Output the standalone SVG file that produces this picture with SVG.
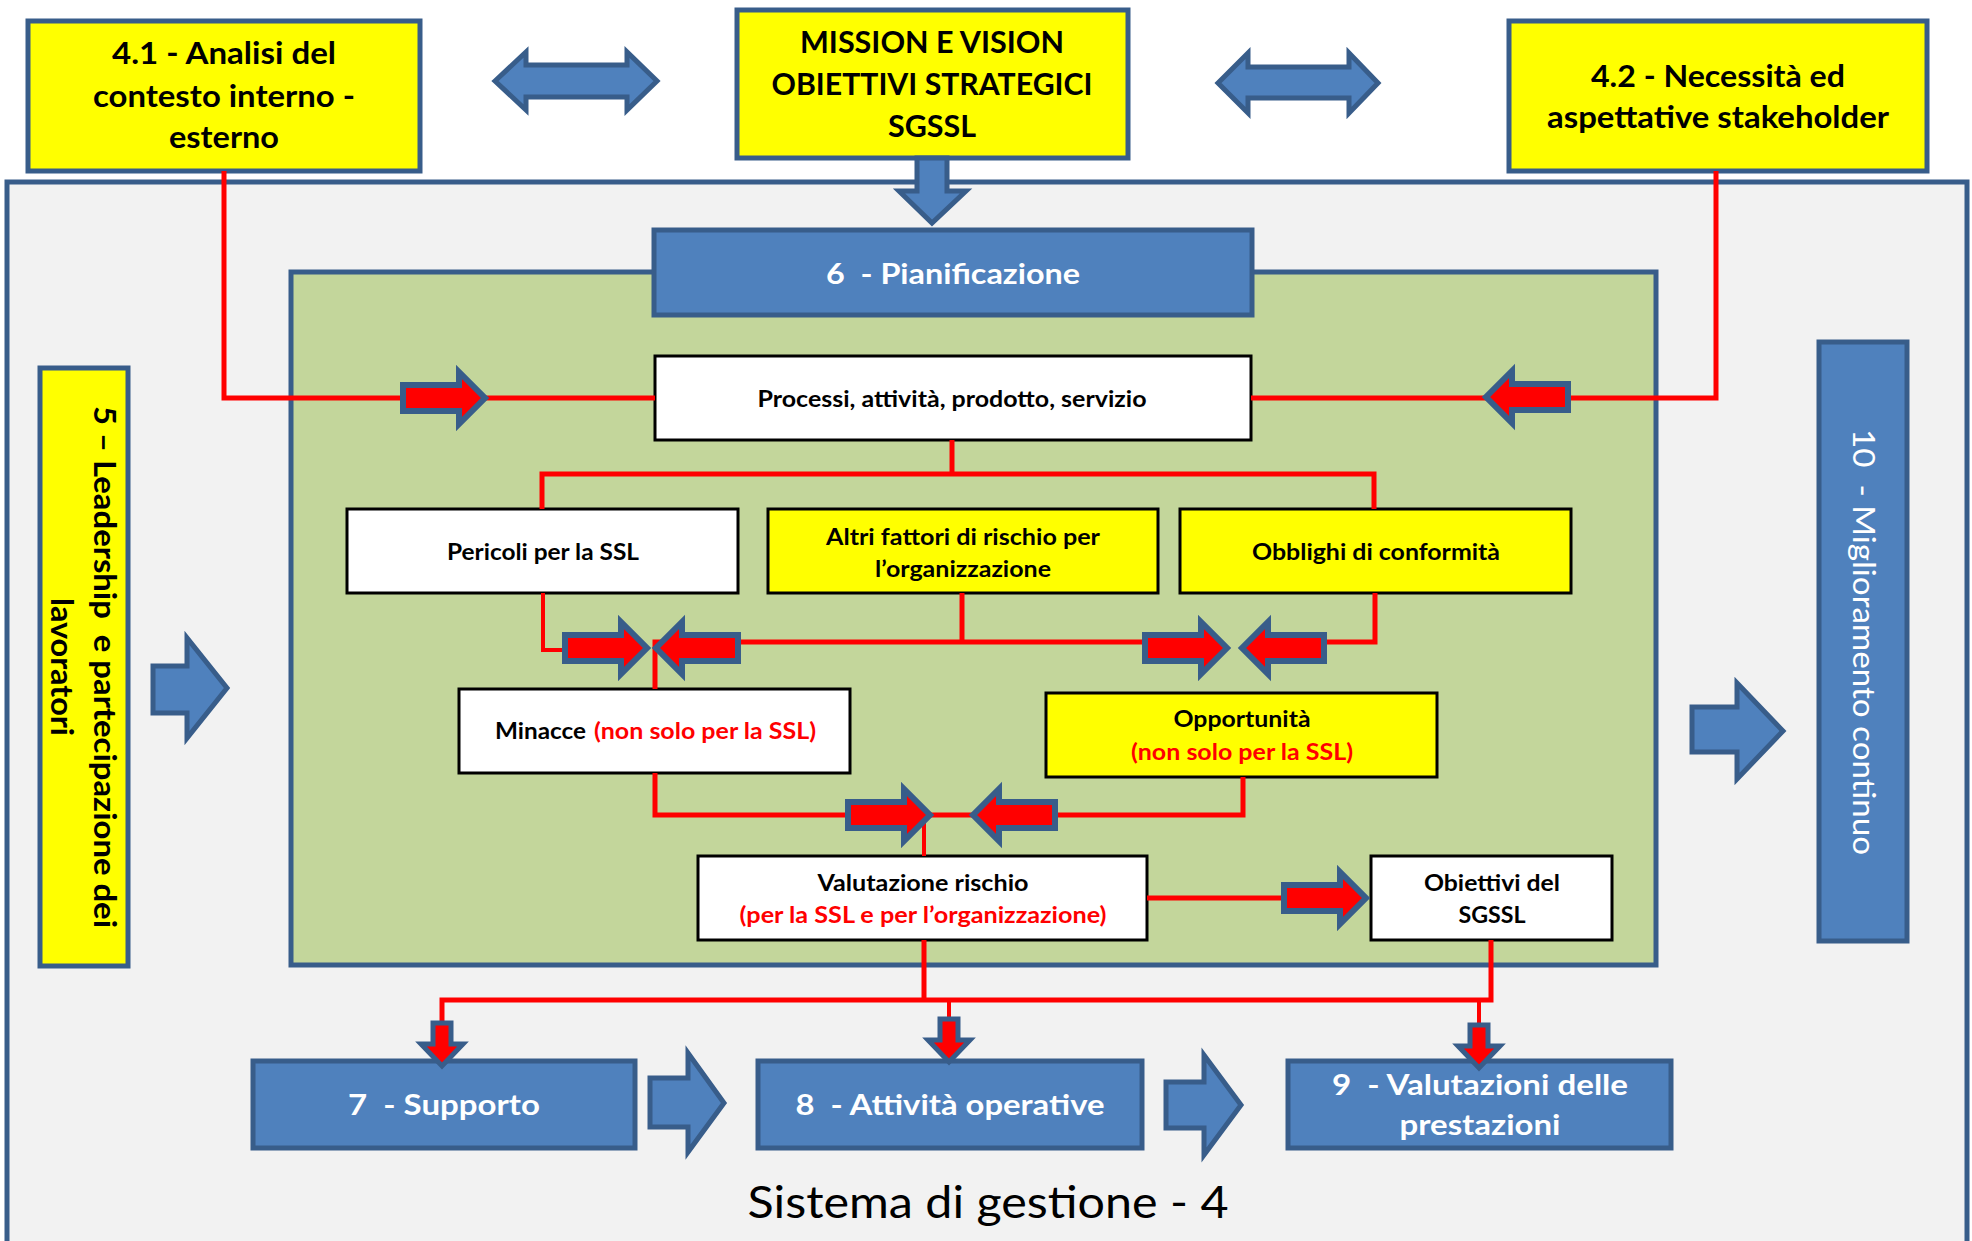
<svg xmlns="http://www.w3.org/2000/svg" xmlns:xlink="http://www.w3.org/1999/xlink" width="1972" height="1241" viewBox="0 0 1972 1241">
  <style>
    .frame { stroke: #385D8A; stroke-width: 5; }
    .yellow { fill: #FFFF00; stroke: #385D8A; stroke-width: 5; }
    .blue { fill: #4F81BD; stroke: #385D8A; stroke-width: 5; }
    .inner { stroke: #000000; stroke-width: 3; }
    .w { fill: #FFFFFF; }
    .y { fill: #FFFF00; }
    .wire { fill: none; stroke: #FF0000; stroke-width: 5; stroke-linejoin: miter; }
    .thin { stroke-width: 4; }
    .flow { fill: #4F81BD; stroke: #385D8A; stroke-width: 5; stroke-linejoin: miter; }
    .t { font-family: Lato, "Open Sans", sans-serif; font-weight: bold; text-anchor: middle; fill: #000000; white-space: pre; }
    .big { font-size: 30px; }
    .mid { font-size: 29px; }
    .sm { font-size: 22px; }
    .lbl { fill: #FFFFFF; }
    .red { fill: #FF0000; }
    .reg { font-weight: normal; }
  </style>
  <defs>
    <!-- small red block arrow, pointing right, centred on the origin -->
    <path id="ra" d="M-41,-13 H15 V-26 L41,0 L15,26 V13 H-41 Z" fill="#FF0000" stroke="#385D8A" stroke-width="6" stroke-linejoin="miter"/>
    <!-- small red block arrow, pointing down -->
    <path id="da" d="M-9,-21 H9 V0 H21 L0,22 L-21,0 H-9 Z" fill="#FF0000" stroke="#385D8A" stroke-width="5" stroke-linejoin="miter"/>
  </defs>

  <rect width="1972" height="1241" fill="#FFFFFF"/>

  <!-- outer management system frame -->
  <g id="sistema">
    <rect class="frame" x="7" y="182" width="1960" height="1090" fill="#F2F2F2"/>
    <text class="t reg" x="988" y="1218" font-size="44" textLength="481" lengthAdjust="spacingAndGlyphs">Sistema di gestione - 4</text>
  </g>

  <!-- planning area -->
  <g id="area-pianificazione">
    <rect class="frame" x="291" y="272" width="1365" height="693" fill="#C3D69B"/>
  </g>

  <g id="n-analisi">
    <rect class="yellow" x="28" y="21" width="392" height="150"/>
    <text class="t big" x="224" y="64" textLength="224" lengthAdjust="spacingAndGlyphs">4.1 - Analisi del</text>
    <text class="t big" x="224" y="107" textLength="262" lengthAdjust="spacingAndGlyphs">contesto interno -</text>
    <text class="t big" x="224" y="148" textLength="110" lengthAdjust="spacingAndGlyphs">esterno</text>
  </g>

  <g id="n-mission">
    <rect class="yellow" x="737" y="10" width="391" height="148"/>
    <text class="t big" x="932" y="53" textLength="264" lengthAdjust="spacingAndGlyphs">MISSION E VISION</text>
    <text class="t big" x="932" y="95" textLength="321" lengthAdjust="spacingAndGlyphs">OBIETTIVI STRATEGICI</text>
    <text class="t big" x="932" y="137" textLength="88" lengthAdjust="spacingAndGlyphs">SGSSL</text>
  </g>

  <g id="n-stakeholder">
    <rect class="yellow" x="1509" y="21" width="418" height="150"/>
    <text class="t big" x="1718" y="87" textLength="254" lengthAdjust="spacingAndGlyphs">4.2 - Necessità ed</text>
    <text class="t big" x="1718" y="128" textLength="342" lengthAdjust="spacingAndGlyphs">aspettative stakeholder</text>
  </g>

  <g id="n-pianificazione">
    <rect class="blue" x="654" y="230" width="598" height="85"/>
    <text class="t mid lbl" x="953" y="284" textLength="254" lengthAdjust="spacingAndGlyphs">6  - Pianificazione</text>
  </g>

  <g id="n-leadership">
    <rect class="yellow" x="40" y="368" width="88" height="598"/>
    <g transform="translate(94,667) rotate(90)">
      <text class="t big" x="0" y="0" textLength="522" lengthAdjust="spacingAndGlyphs">5 – Leadership  e partecipazione dei</text>
      <text class="t big" x="0" y="43" textLength="138" lengthAdjust="spacingAndGlyphs">lavoratori</text>
    </g>
  </g>

  <g id="n-miglioramento">
    <rect class="blue" x="1819" y="342" width="88" height="599"/>
    <g transform="translate(1853,642) rotate(90)">
      <text class="t reg lbl" x="0" y="0" font-size="30" textLength="426" lengthAdjust="spacingAndGlyphs">10  - Miglioramento continuo</text>
    </g>
  </g>

  <g id="n-processi">
    <rect class="inner w" x="655" y="356" width="596" height="84"/>
    <text class="t sm" x="952" y="407" textLength="389" lengthAdjust="spacingAndGlyphs">Processi, attività, prodotto, servizio</text>
  </g>

  <g id="n-pericoli">
    <rect class="inner w" x="347" y="509" width="391" height="84"/>
    <text class="t sm" x="543" y="560" textLength="192" lengthAdjust="spacingAndGlyphs">Pericoli per la SSL</text>
  </g>

  <g id="n-altri-fattori">
    <rect class="inner y" x="768" y="509" width="390" height="84"/>
    <text class="t sm" x="963" y="545" textLength="274" lengthAdjust="spacingAndGlyphs">Altri fattori di rischio per</text>
    <text class="t sm" x="963" y="577" textLength="176" lengthAdjust="spacingAndGlyphs">l’organizzazione</text>
  </g>

  <g id="n-obblighi">
    <rect class="inner y" x="1180" y="509" width="391" height="84"/>
    <text class="t sm" x="1376" y="560" textLength="248" lengthAdjust="spacingAndGlyphs">Obblighi di conformità</text>
  </g>

  <g id="n-minacce">
    <rect class="inner w" x="459" y="689" width="391" height="84"/>
    <text class="t sm" x="540.5" y="739" textLength="91" lengthAdjust="spacingAndGlyphs">Minacce</text>
    <text class="t sm red" x="705" y="739" textLength="222" lengthAdjust="spacingAndGlyphs">(non solo per la SSL)</text>
  </g>

  <g id="n-opportunita">
    <rect class="inner y" x="1046" y="693" width="391" height="84"/>
    <text class="t sm" x="1242" y="727" textLength="137" lengthAdjust="spacingAndGlyphs">Opportunità</text>
    <text class="t sm red" x="1242" y="760" textLength="222" lengthAdjust="spacingAndGlyphs">(non solo per la SSL)</text>
  </g>

  <g id="n-valutazione-rischio">
    <rect class="inner w" x="698" y="856" width="449" height="84"/>
    <text class="t sm" x="923" y="891" textLength="211" lengthAdjust="spacingAndGlyphs">Valutazione rischio</text>
    <text class="t sm red" x="923" y="923" textLength="367" lengthAdjust="spacingAndGlyphs">(per la SSL e per l’organizzazione)</text>
  </g>

  <g id="n-obiettivi">
    <rect class="inner w" x="1371" y="856" width="241" height="84"/>
    <text class="t sm" x="1492" y="891" textLength="136" lengthAdjust="spacingAndGlyphs">Obiettivi del</text>
    <text class="t sm" x="1492" y="923" textLength="67" lengthAdjust="spacingAndGlyphs">SGSSL</text>
  </g>

  <g id="n-supporto">
    <rect class="blue" x="253" y="1061" width="382" height="87"/>
    <text class="t mid lbl" x="444" y="1115" textLength="192" lengthAdjust="spacingAndGlyphs">7  - Supporto</text>
  </g>

  <g id="n-attivita">
    <rect class="blue" x="758" y="1061" width="384" height="87"/>
    <text class="t mid lbl" x="950" y="1115" textLength="309" lengthAdjust="spacingAndGlyphs">8  - Attività operative</text>
  </g>

  <g id="n-valutazioni">
    <rect class="blue" x="1288" y="1061" width="383" height="87"/>
    <text class="t mid lbl" x="1480" y="1095" textLength="296" lengthAdjust="spacingAndGlyphs">9  - Valutazioni delle</text>
    <text class="t mid lbl" x="1480" y="1135" textLength="161" lengthAdjust="spacingAndGlyphs">prestazioni</text>
  </g>

  <!-- connectors: red wires, red block arrows, blue flow arrows -->
  <g id="connectors">
    <path class="wire" d="M224,171 V398 H655"/>
    <path class="wire" d="M1716,171 V398 H1251"/>
    <path class="wire" d="M952,440 V474"/>
    <path class="wire" d="M542,509 V474 H1374 V509"/>
    <path class="wire thin" d="M543,593 V650 H580"/>
    <path class="wire" d="M655,689 V642 H1160"/>
    <path class="wire" d="M962,593 V642"/>
    <path class="wire" d="M1375,593 V642 H1310"/>
    <path class="wire" d="M655,773 V815 H1243 V777"/>
    <path class="wire thin" d="M924,815 V856"/>
    <path class="wire" d="M1147,898 H1290"/>
    <path class="wire" d="M924,940 V1000"/>
    <path class="wire" d="M1491,940 V1000 H442 V1030"/>
    <path class="wire thin" d="M949,1000 V1030"/>
    <path class="wire thin" d="M1479,1000 V1030"/>

    <use xlink:href="#ra" transform="translate(444,398)"/>
    <use xlink:href="#ra" transform="translate(1527,397) rotate(180)"/>
    <use xlink:href="#ra" transform="translate(606,648)"/>
    <use xlink:href="#ra" transform="translate(697,648) rotate(180)"/>
    <use xlink:href="#ra" transform="translate(1186,648)"/>
    <use xlink:href="#ra" transform="translate(1283,648) rotate(180)"/>
    <use xlink:href="#ra" transform="translate(889,815)"/>
    <use xlink:href="#ra" transform="translate(1014,815) rotate(180)"/>
    <use xlink:href="#ra" transform="translate(1325,898)"/>

    <use xlink:href="#da" transform="translate(442,1044)"/>
    <use xlink:href="#da" transform="translate(949,1040)"/>
    <use xlink:href="#da" transform="translate(1479,1046)"/>

    <path class="flow" d="M495,81 L526,52 V65 H627 V52 L657,81 L627,110 V97 H526 V110 Z"/>
    <path class="flow" d="M1218,83 L1248,53 V67 H1349 V53 L1378,83 L1349,113 V98 H1248 V113 Z"/>
    <path class="flow" d="M917,158 H947 V191 H966 L932,223 L899,191 H917 Z"/>
    <path class="flow" d="M153,666 H187 V638 L227,688 L187,738 V713 H153 Z"/>
    <path class="flow" d="M1692,707 H1737 V683 L1783,731 L1737,779 V752 H1692 Z"/>
    <path class="flow" d="M650,1078 H688 V1053 L724,1103 L688,1152 V1127 H650 Z"/>
    <path class="flow" d="M1166,1082 H1204 V1055 L1241,1105 L1204,1155 V1128 H1166 Z"/>
  </g>
</svg>
